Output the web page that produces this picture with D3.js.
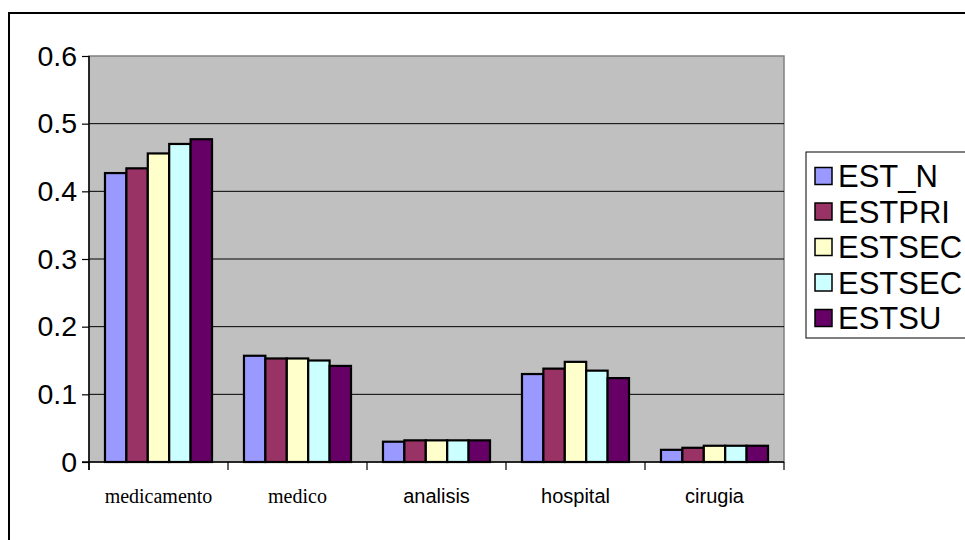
<!DOCTYPE html>
<html>
<head>
<meta charset="utf-8">
<script src="https://cdn.jsdelivr.net/npm/d3@7"></script>
<style>
  html, body { margin: 0; padding: 0; background: #fff; }
  svg { display: block; }
</style>
</head>
<body>
<svg id="chart" width="965" height="540"></svg>
<script>
// Expense categories and the five education-level series
const categories = ["medicamento", "medico", "analisis", "hospital", "cirugia"];
const seriesNames = ["EST_N", "ESTPRI", "ESTSEC", "ESTSEC", "ESTSU"];
const seriesColors = ["#9999FF", "#993366", "#FFFFCC", "#CCFFFF", "#660066"];
const EST_N  = [0.427, 0.157, 0.030, 0.130, 0.018];
const ESTPRI = [0.434, 0.153, 0.032, 0.138, 0.021];
const ESTSEC = [0.456, 0.153, 0.032, 0.148, 0.024];
const ESTSEC2 = [0.470, 0.150, 0.032, 0.135, 0.024];
const ESTSU  = [0.477, 0.142, 0.032, 0.124, 0.024];
const yTicks = [0, 0.1, 0.2, 0.3, 0.4, 0.5, 0.6];
// Category labels that use a serif face
const serifLabels = ["medicamento", "medico"];

const values = [EST_N, ESTPRI, ESTSEC, ESTSEC2, ESTSU];

const svg = d3.select("#chart");

// Outer chart frame (continues past the right and bottom edges)
svg.append("rect")
  .attr("x", 9).attr("y", 13)
  .attr("width", 1000).attr("height", 600)
  .attr("fill", "#fff").attr("stroke", "#000").attr("stroke-width", 2);

const plot = { left: 89, right: 784, top: 56, bottom: 462 };

const x0 = d3.scaleBand().domain(categories).range([plot.left, plot.right]).padding(0);
const bw = x0.bandwidth();
const x1 = d3.scaleBand().domain(d3.range(seriesNames.length))
  .range([bw * 0.115, bw * 0.885]).padding(0);
const y = d3.scaleLinear().domain([0, 0.6]).range([plot.bottom, plot.top]);

// Plot background
svg.append("rect")
  .attr("x", plot.left).attr("y", plot.top)
  .attr("width", plot.right - plot.left).attr("height", plot.bottom - plot.top)
  .attr("fill", "#C0C0C0").attr("stroke", "#808080").attr("stroke-width", 1.5);

// Horizontal gridlines
svg.append("g").selectAll("line")
  .data(yTicks.filter(t => t > 0 && t < 0.6))
  .join("line")
  .attr("x1", plot.left).attr("x2", plot.right)
  .attr("y1", d => y(d)).attr("y2", d => y(d))
  .attr("stroke", "#000").attr("stroke-width", 1);

// Bars
const groups = svg.append("g").selectAll("g")
  .data(categories)
  .join("g")
  .attr("transform", d => `translate(${x0(d)},0)`);

groups.selectAll("rect")
  .data((c, ci) => values.map((s, si) => ({ si, v: s[ci] })))
  .join("rect")
  .attr("x", d => x1(d.si))
  .attr("width", x1.bandwidth())
  .attr("y", d => y(d.v))
  .attr("height", d => y(0) - y(d.v))
  .attr("fill", d => seriesColors[d.si])
  .attr("stroke", "#000").attr("stroke-width", 2.2);

// Y axis
const yAxis = d3.axisLeft(y).tickValues(yTicks).tickSize(7).tickPadding(5)
  .tickFormat(d => d === 0 ? "0" : d3.format(".1f")(d));
const gy = svg.append("g").attr("transform", `translate(${plot.left},0)`).call(yAxis);
gy.select(".domain").attr("stroke", "#000").attr("stroke-width", 1.5)
  .attr("d", `M0,${plot.top}V${plot.bottom + 8}`);
gy.selectAll(".tick line").attr("stroke", "#000").attr("stroke-width", 1.2);
gy.selectAll(".tick text")
  .attr("font-family", "'Liberation Sans', Arial, sans-serif")
  .attr("font-size", 28.5).attr("fill", "#000");

// X axis line and category separator ticks
const gx = svg.append("g");
gx.append("line")
  .attr("x1", plot.left - 7).attr("x2", plot.right)
  .attr("y1", plot.bottom).attr("y2", plot.bottom)
  .attr("stroke", "#000").attr("stroke-width", 1.5);
const bounds = categories.map(c => x0(c)).concat([x0(categories[categories.length - 1]) + bw]);
gx.selectAll("line.sep")
  .data(bounds)
  .join("line")
  .attr("class", "sep")
  .attr("x1", d => d).attr("x2", d => d)
  .attr("y1", plot.bottom).attr("y2", plot.bottom + 8)
  .attr("stroke", "#000").attr("stroke-width", 1.2);

// Category labels
gx.selectAll("text")
  .data(categories)
  .join("text")
  .attr("x", d => x0(d) + bw / 2)
  .attr("y", 503)
  .attr("text-anchor", "middle")
  .attr("font-family", d => serifLabels.includes(d)
    ? "'Liberation Serif', 'Times New Roman', serif"
    : "'Liberation Sans', Arial, sans-serif")
  .attr("font-size", 20)
  .attr("fill", "#000")
  .text(d => d);

// Legend
const legend = svg.append("g");
legend.append("rect")
  .attr("x", 806).attr("y", 152)
  .attr("width", 300).attr("height", 186)
  .attr("fill", "#fff").attr("stroke", "#000").attr("stroke-width", 1);

const items = legend.selectAll("g.item")
  .data(seriesNames)
  .join("g")
  .attr("class", "item")
  .attr("transform", (d, i) => `translate(0,${176 + i * 35.5})`);
items.append("rect")
  .attr("x", 815).attr("y", -8.5)
  .attr("width", 17).attr("height", 17)
  .attr("fill", (d, i) => seriesColors[i])
  .attr("stroke", "#000").attr("stroke-width", 1.5);
items.append("text")
  .attr("x", 838).attr("y", 0)
  .attr("dy", "0.36em")
  .attr("font-family", "'Liberation Sans', Arial, sans-serif")
  .attr("font-size", 31)
  .attr("fill", "#000")
  .text(d => d);
</script>
</body>
</html>
